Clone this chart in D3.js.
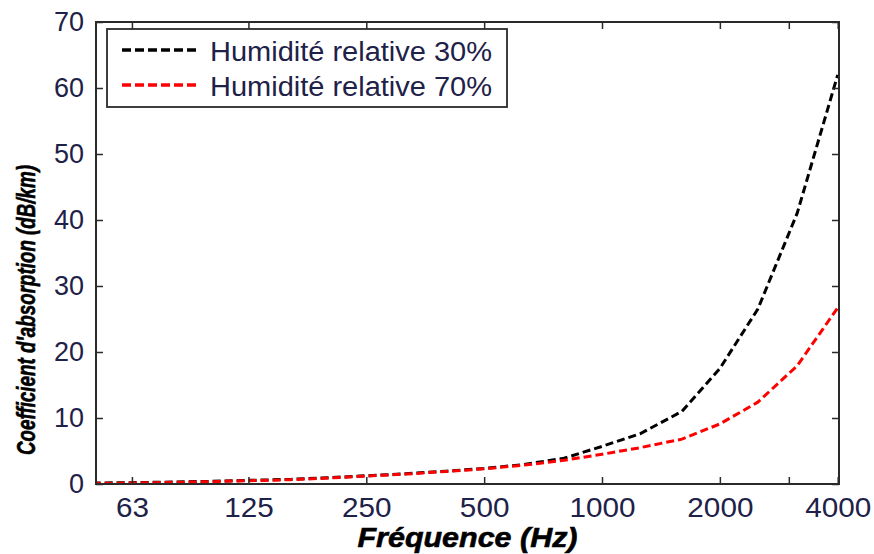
<!DOCTYPE html>
<html><head><meta charset="utf-8">
<script src="https://cdn.jsdelivr.net/npm/d3@7/dist/d3.min.js"></script>
<style>
body{margin:0;background:#fff;}
svg{display:block;}
text{font-family:"Liberation Sans",Arial,sans-serif;}
</style></head>
<body><svg id="c" width="874" height="554"></svg>
<script>
// Frequencies (Hz), 1/3-octave band centres
const freqs = [50, 63, 80, 100, 125, 160, 200, 250, 315, 400, 500, 630, 800, 1000, 1250, 1600, 2000, 2500, 3150, 4000];
// Absorption coefficient (dB/km), relative humidity 30 %
const rh30 = [0.15, 0.2, 0.3, 0.4, 0.55, 0.7, 0.95, 1.25, 1.55, 1.95, 2.35, 2.95, 3.9, 5.7, 7.6, 11, 17.5, 26.5, 41, 62];
// Absorption coefficient (dB/km), relative humidity 70 %
const rh70 = [0.1, 0.15, 0.25, 0.35, 0.5, 0.65, 0.9, 1.2, 1.5, 1.9, 2.3, 2.85, 3.6, 4.5, 5.5, 6.8, 9.1, 12.4, 17.9, 26.7];
const xTicks = [63, 125, 250, 500, 1000, 2000, 3000, 4000];
const xTickLabels = ["63", "125", "250", "500", "1000", "2000", "", "4000"];
const yTicks = [0, 10, 20, 30, 40, 50, 60, 70];
const seriesNames = ["Humidité relative 30%", "Humidité relative 70%"];
const seriesColors = ["#000000", "#ff0000"];
const xTitle = "Fréquence (Hz)";
const yTitle = "Coefficient d'absorption (dB/km)";

const svg = d3.select("#c");
const L = 96, R = 839, T = 22, B = 484;
const x = d3.scaleLog().domain([51, 4030]).range([L, R]);
const y = d3.scaleLinear().domain([0, 70]).range([B, T]);
const labelColor = "#1e2148";
const axisColor = "#2a2a2a";

// data lines
const series = [rh30, rh70];
const line = d3.line().x((d, i) => x(freqs[i])).y(d => y(d)).curve(d3.curveLinear);
svg.append("clipPath").attr("id", "pc").append("rect")
  .attr("x", L).attr("y", T - 2).attr("width", R - L + 2).attr("height", B - T + 4);
series.forEach((s, k) => {
  svg.append("path").datum(s).attr("d", line)
    .attr("fill", "none").attr("stroke", seriesColors[k])
    .attr("stroke-width", 3).attr("stroke-dasharray", "8,4")
    .attr("clip-path", "url(#pc)");
});

// axes (box with inward ticks on all sides)
const tickLen = 7;
const fmtX = (d) => xTickLabels[xTicks.indexOf(d)];
const gB = svg.append("g").attr("transform", `translate(0,${B})`)
  .call(d3.axisBottom(x).tickValues(xTicks).tickFormat(fmtX).tickSizeInner(-tickLen).tickSizeOuter(0).tickPadding(14));
const gT = svg.append("g").attr("transform", `translate(0,${T})`)
  .call(d3.axisTop(x).tickValues(xTicks).tickFormat("").tickSizeInner(-tickLen).tickSizeOuter(0));
const gL = svg.append("g").attr("transform", `translate(${L},0)`)
  .call(d3.axisLeft(y).tickValues(yTicks).tickSizeInner(-tickLen).tickSizeOuter(0).tickPadding(12));
const gR = svg.append("g").attr("transform", `translate(${R},0)`)
  .call(d3.axisRight(y).tickValues(yTicks).tickFormat("").tickSizeInner(-tickLen).tickSizeOuter(0));
[gB, gT, gL, gR].forEach(g => {
  g.select(".domain").remove();
  g.selectAll(".tick line").attr("stroke", axisColor).attr("stroke-width", 1.5);
});
gB.selectAll("text").attr("font-size", 27).attr("fill", labelColor)
  .attr("font-family", "Liberation Sans, Arial, sans-serif")
  .each(function () {
    const w = this.getComputedTextLength();
    if (w > 0) d3.select(this).attr("textLength", w * 1.1).attr("lengthAdjust", "spacingAndGlyphs");
  });
gL.selectAll("text").attr("font-size", 27).attr("fill", labelColor)
  .attr("font-family", "Liberation Sans, Arial, sans-serif");
svg.append("rect").attr("x", L).attr("y", T).attr("width", R - L).attr("height", B - T)
  .attr("fill", "none").attr("stroke", axisColor).attr("stroke-width", 2);

// titles
svg.append("text").attr("x", (L + R) / 2).attr("y", 547).attr("text-anchor", "middle")
  .attr("font-size", 28).attr("font-weight", "bold").attr("font-style", "italic").attr("fill", "#000")
  .attr("stroke", "#000").attr("stroke-width", 0.6)
  .attr("textLength", 220).attr("lengthAdjust", "spacingAndGlyphs").text(xTitle);
svg.append("text").attr("transform", `translate(35,310) rotate(-90)`)
  .attr("text-anchor", "middle")
  .attr("font-size", 25).attr("font-weight", "bold").attr("font-style", "italic").attr("fill", "#000")
  .attr("stroke", "#000").attr("stroke-width", 0.6)
  .attr("textLength", 290).attr("lengthAdjust", "spacingAndGlyphs").text(yTitle);

// legend
const lg = svg.append("g");
lg.append("rect").attr("x", 107).attr("y", 29).attr("width", 400).attr("height", 78)
  .attr("fill", "#fff").attr("stroke", axisColor).attr("stroke-width", 1.8);
seriesNames.forEach((n, k) => {
  const yy = 50 + k * 35;
  lg.append("line").attr("x1", 122).attr("x2", 197).attr("y1", yy).attr("y2", yy)
    .attr("stroke", seriesColors[k]).attr("stroke-width", 3.5).attr("stroke-dasharray", "9,4");
  lg.append("text").attr("x", 210).attr("y", yy + 11).attr("font-size", 27).attr("fill", labelColor)
    .attr("textLength", 282).attr("lengthAdjust", "spacingAndGlyphs").text(n);
});
</script></body></html>
